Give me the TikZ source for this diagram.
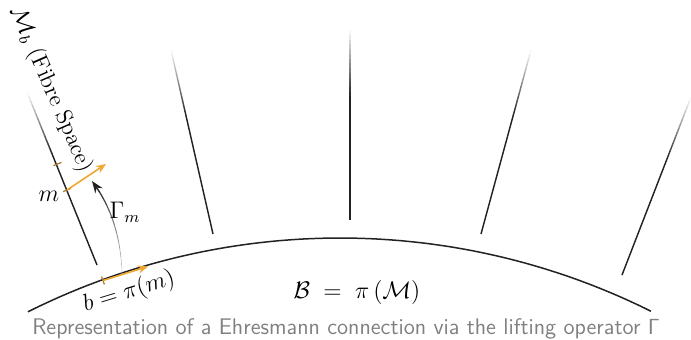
\documentclass[tikz,border=0pt]{standalone}
\usepackage{amsmath}
\usetikzlibrary{arrows.meta,calc}
\definecolor{liftorange}{HTML}{F0A830}
\definecolor{tickbrown}{HTML}{A87830}
\definecolor{captiongray}{HTML}{808080}
\definecolor{fibredark}{HTML}{222222}
\newcommand{\fadefibre}[2]{%
  \foreach \i in {0,...,13}{%
    \pgfmathsetmacro\fa{\i/40}%
    \pgfmathsetmacro\fb{(\i+1.05)/40}%
    \pgfmathsetmacro\fc{100*(\i+0.5)/14}%
    \draw[fibreline, draw=fibredark!\fc!white] ($(#1)!\fa!(#2)$) -- ($(#1)!\fb!(#2)$);}%
  \draw[fibreline] ($(#1)!0.35!(#2)$) -- (#2);}
\begin{document}
\begin{tikzpicture}[x=0.5pt,y=-0.5pt,
  fibreline/.style={draw=fibredark,line width=0.72pt},
  baseline/.style={draw=fibredark,line width=0.75pt},
  lift/.style={draw=liftorange,line width=0.8pt,-{Stealth[length=5pt,width=4pt]}},
  tickmark/.style={draw=tickbrown,line width=0.6pt},
  mathlabel/.style={font=\fontsize{11.5}{14}\selectfont,inner sep=0pt},
  declare function={
    gx(\t)=(1-\t)^3*122+3*(1-\t)^2*\t*121+3*(1-\t)*\t^2*110+\t^3*92;
    gy(\t)=(1-\t)^3*274+3*(1-\t)^2*\t*235+3*(1-\t)*\t^2*205+\t^3*181;
  }]
\useasboundingbox (0,0) rectangle (691,339);
% base space
\draw[baseline] plot[domain=-26.6:26.5,samples=80,smooth] ({340+697*sin(\x)},{935-697*cos(\x)});
% fibres
\coordinate (f1t) at (27,92);   \coordinate (f1b) at (97,265);
\coordinate (f2t) at (171,50);  \coordinate (f2b) at (213,234);
\coordinate (f3t) at (350,30);  \coordinate (f3b) at (350,220);
\coordinate (f4t) at (531,50);  \coordinate (f4b) at (481,234);
\coordinate (f5t) at (691,97);  \coordinate (f5b) at (622,275);
\fadefibre{f1t}{f1b}
\fadefibre{f2t}{f2b}
\fadefibre{f3t}{f3b}
\fadefibre{f4t}{f4b}
\fadefibre{f5t}{f5b}
% points
\coordinate (m) at (67,190);
\coordinate (mu) at (57.5,164);
\coordinate (b) at (103,280.5);
\coordinate (mv) at (106,164);
\coordinate (bv) at (148,266.5);
% ticks
\draw[tickmark] ($(mu)+(-4,1.6)$) -- ($(mu)+(4,-1.6)$);
\draw[tickmark] ($(m)+(-4,1.6)$) -- ($(m)+(4,-1.6)$);
\draw[tickmark] ($(b)+(-1.4,-4)$) -- ($(b)+(1.4,4)$);
% lifted vectors
\draw[lift] (m) -- (mv);
\draw[lift] (b) -- (bv);
% lifting operator arrow
\foreach \i in {0,...,11}{%
  \pgfmathsetmacro\ga{\i/13}%
  \pgfmathsetmacro\gb{(\i+1.05)/13}%
  \pgfmathsetmacro\gc{25+75*\i/12}%
  \pgfmathsetmacro\gw{0.25+0.5*\i/12}%
  \draw[draw=fibredark!\gc!white,line width=\gw pt] plot[domain=\ga:\gb,samples=4] ({gx(\x)},{gy(\x)});}
\coordinate (gs) at ({gx(12/13)},{gy(12/13)});
\coordinate (ge) at ({gx(1)},{gy(1)});
\draw[draw=fibredark,line width=0.75pt,-{Stealth[length=6pt,width=4.5pt]}] (gs) -- (ge);
% labels
\node[mathlabel,rotate=-66.5] (mblabel) at (51,90) {$\mathcal{M}_b$ (Fibre Space)};
\node[mathlabel] (mlabel) at (49,196) {$m$};
\node[mathlabel] (gammalabel) at (125,212) {$\Gamma_m$};
\node[mathlabel,rotate=17] (blabel) at (129,292) {$b = \pi(m)$};
\node[mathlabel] (Blabel) at (357,292) {$\mathcal{B}\;=\;\pi\,(\mathcal{M})$};
\node[font=\sffamily\fontsize{11.3}{13}\selectfont,text=captiongray,inner sep=0pt,anchor=base] (caption) at (346,334.5) {Representation of a Ehresmann connection via the lifting operator $\mathsf{\Gamma}$};
\end{tikzpicture}
\end{document}
